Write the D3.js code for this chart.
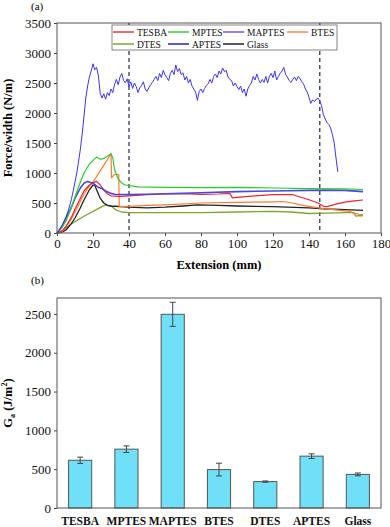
<!DOCTYPE html>
<html>
<head>
<meta charset="utf-8">
<script src="https://cdn.jsdelivr.net/npm/d3@7"></script>
<style>
  body { margin: 0; background: #fff; }
  svg { display: block; }
</style>
</head>
<body>
<div id="chart"></div>
<script>
// ---- data for panel (a): [extension mm, force/width N/m] ----
const tesba = [[0,0],[3,40],[5,110],[8,260],[10,400],[13,580],[15,700],[18,800],[20,840],[22,860],[24,800],[26,720],[28,650],[30,620],[35,610],[40,620],[50,640],[60,650],[70,655],[80,645],[90,650],[96,660],[97.5,585],[100,595],[110,620],[120,640],[131,638],[135,600],[140,555],[145,500],[148,445],[150,440],[155,480],[160,515],[165,535],[170,550]];
const mptes = [[0,0],[3,100],[5,200],[8,420],[10,600],[13,850],[15,1000],[18,1150],[20,1210],[22,1265],[24,1230],[26,1240],[28,1280],[30,1320],[31,1250],[32,1050],[34,900],[36,830],[38,800],[40,790],[45,770],[60,760],[80,755],[100,760],[120,750],[140,740],[160,735],[170,725]];
const maptes = [[0,0],[1,30],[2,80],[3,140],[4,200],[5,270],[6,350],[7,450],[8,560],[9,700],[10,850],[11,1000],[12,1200],[13,1400],[14,1650],[15,1950],[16,2250],[17,2450],[18,2600],[19,2700],[20,2820],[21,2720],[22,2760],[23,2620],[24,2330],[25,2250],[26,2320],[27,2230],[28,2340],[29,2290],[30,2400],[31,2340],[32,2480],[33,2560],[34,2470],[35,2600],[36,2660],[37,2540],[38,2500],[39,2570],[40,2440],[41,2520],[42,2410],[43,2500],[44,2440],[45,2340],[46,2420],[47,2460],[48,2520],[49,2400],[50,2360],[51,2420],[52,2470],[53,2510],[54,2560],[55,2610],[56,2540],[57,2660],[58,2590],[59,2710],[60,2640],[61,2590],[62,2540],[63,2660],[64,2710],[65,2640],[66,2800],[67,2690],[68,2740],[69,2640],[70,2670],[71,2550],[72,2610],[73,2500],[74,2560],[75,2450],[76,2400],[77,2350],[78,2210],[79,2360],[80,2400],[81,2340],[82,2410],[83,2460],[84,2490],[85,2560],[86,2500],[87,2610],[88,2650],[89,2590],[90,2700],[91,2650],[92,2750],[93,2690],[94,2710],[95,2600],[96,2560],[97,2540],[98,2450],[99,2500],[100,2440],[101,2390],[102,2450],[103,2340],[104,2400],[105,2280],[106,2400],[107,2460],[108,2500],[109,2610],[110,2550],[111,2650],[112,2560],[113,2500],[114,2560],[115,2510],[116,2610],[117,2500],[118,2610],[119,2660],[120,2590],[121,2700],[122,2550],[123,2610],[124,2660],[125,2700],[126,2760],[127,2640],[128,2600],[129,2540],[130,2510],[131,2560],[132,2600],[133,2540],[134,2610],[135,2580],[136,2520],[137,2480],[138,2400],[139,2350],[140,2260],[141,2160],[142,2220],[143,2190],[144,2230],[145,2250],[146,2200],[147,2120],[148,1970],[149,1900],[150,1840],[151,1810],[152,1750],[153,1640],[154,1500],[155,1250],[156,1020]];
const btes = [[0,0],[3,30],[5,100],[8,240],[10,350],[13,530],[15,650],[18,780],[20,850],[25,1080],[30,1320],[30.3,920],[31.5,960],[32,975],[34.3,975],[34.6,440],[40,445],[50,460],[60,470],[80,500],[100,510],[120,520],[125,525],[131,500],[135,470],[140,445],[148,405],[155,385],[160,370],[163,360],[165,320],[167,320],[168,305],[170,305]];
const dtes = [[0,0],[2,20],[5,80],[8,150],[10,190],[15,280],[20,360],[25,440],[27,470],[30,450],[33,380],[36,350],[40,340],[60,340],[80,340],[100,350],[120,360],[130,350],[140,325],[150,330],[160,340],[165,340],[166,280],[168,290],[170,285]];
const aptes = [[0,0],[3,120],[5,250],[8,430],[10,580],[13,750],[15,830],[17,860],[20,830],[23,760],[25,740],[27,700],[30,660],[32,645],[40,640],[50,645],[60,655],[80,670],[100,690],[120,700],[128,705],[140,710],[150,715],[160,710],[170,690]];
const glass = [[0,0],[3,20],[5,50],[8,160],[10,250],[13,420],[15,550],[18,720],[20,800],[21,790],[22,720],[24,580],[26,500],[28,460],[30,450],[40,430],[50,420],[60,430],[70,450],[78,470],[90,460],[100,450],[120,440],[140,420],[150,400],[160,390],[170,378]];

const seriesNames = ["TESBA", "MPTES", "MAPTES", "BTES", "DTES", "APTES", "Glass"];
const seriesData = [tesba, mptes, maptes, btes, dtes, aptes, glass];
const seriesColors = ["#f5232b", "#2ccb2c", "#3b35f2", "#ff7a2e", "#7ea532", "#4a46e0", "#222222"];
const seriesWidths = [1.2, 1.2, 1, 1.2, 1.3, 1.6, 1.3];
const dashedAt = [40, 146];
const xTicksA = d3.range(0, 181, 20);
const yTicksA = d3.range(0, 3501, 500);

// ---- data for panel (b) ----
const samples = ["TESBA", "MPTES", "MAPTES", "BTES", "DTES", "APTES", "Glass"];
const gaValues = [615, 758, 2495, 495, 340, 668, 433];
const gaErrors = [40, 42, 155, 82, 8, 30, 18];
const yTicksB = d3.range(0, 2501, 500);

const FONT = '"Liberation Serif", "Times New Roman", Times, serif';
const W = 390, H = 527;
const svg = d3.select("#chart").append("svg").attr("width", W).attr("height", H)
  .attr("font-family", FONT);

function styleAxis(g, size, bold) {
  g.attr("font-family", FONT).attr("font-size", size);
  if (bold) g.attr("font-weight", "bold");
  g.selectAll(".domain").remove();
  g.selectAll("line").attr("stroke", "#444");
  g.selectAll("text").attr("fill", "#111").attr("font-family", FONT);
}

// ---------- panel (a) ----------
const ax = { l: 57, r: 381, t: 23, b: 233 };
const x = d3.scaleLinear().domain([0, 180]).range([ax.l, ax.r]);
const y = d3.scaleLinear().domain([0, 3500]).range([ax.b, ax.t]);

svg.append("text").attr("x", 31).attr("y", 10).attr("font-size", 11).text("(a)");

styleAxis(svg.append("g").attr("transform", `translate(0,${ax.b})`)
  .call(d3.axisBottom(x).tickValues(xTicksA).tickFormat(d3.format("d")).tickSize(3).tickSizeOuter(0)), 13);
styleAxis(svg.append("g").attr("transform", `translate(${ax.l},0)`)
  .call(d3.axisLeft(y).tickValues(yTicksA).tickFormat(d3.format("d")).tickSize(3).tickSizeOuter(0)), 13);

// dashed guides
svg.selectAll(".guide").data(dashedAt).enter().append("line")
  .attr("x1", d => x(d)).attr("x2", d => x(d))
  .attr("y1", ax.t).attr("y2", ax.b)
  .attr("stroke", "#1f2a44").attr("stroke-width", 1.2).attr("stroke-dasharray", "4,3");

const line = d3.line().x(d => x(d[0])).y(d => y(d[1]));
// draw order: back to front
const order = [4, 6, 3, 0, 5, 1, 2];
order.forEach(i => {
  svg.append("path").datum(seriesData[i]).attr("d", line)
    .attr("fill", "none").attr("stroke", seriesColors[i])
    .attr("stroke-width", seriesWidths[i]).attr("stroke-linejoin", "round");
});

svg.append("rect").attr("x", ax.l).attr("y", ax.t)
  .attr("width", ax.r - ax.l).attr("height", ax.b - ax.t)
  .attr("fill", "none").attr("stroke", "#555").attr("stroke-width", 1);

// legend
const leg = svg.append("g");
leg.append("rect").attr("x", 112).attr("y", 25).attr("width", 225).attr("height", 25)
  .attr("fill", "#fff").attr("stroke", "#666").attr("stroke-width", 0.8);
const legX = [113, 168, 223, 287];
seriesNames.forEach((name, i) => {
  const lx = legX[i % 4], ly = i < 4 ? 32 : 44;
  leg.append("line").attr("x1", lx).attr("x2", lx + 21).attr("y1", ly).attr("y2", ly)
    .attr("stroke", seriesColors[i]).attr("stroke-width", seriesWidths[i] + 0.2);
  leg.append("text").attr("x", lx + 24).attr("y", ly + 3.5)
    .attr("font-size", 9.5).attr("fill", "#111").text(name);
});

svg.append("text")
  .attr("transform", `translate(12,${(ax.t + ax.b) / 2}) rotate(-90)`)
  .attr("text-anchor", "middle").attr("font-weight", "bold").attr("font-size", 12.5)
  .text("Force/width (N/m)");
svg.append("text").attr("x", (ax.l + ax.r) / 2).attr("y", 269)
  .attr("text-anchor", "middle").attr("font-weight", "bold").attr("font-size", 12.5)
  .text("Extension (mm)");

// ---------- panel (b) ----------
const bx = { l: 57, r: 381, t: 298, b: 508 };
const xb = d3.scaleBand().domain(samples).range([bx.l, bx.r]).paddingInner(0.5).paddingOuter(0.25);
const yb = d3.scaleLinear().domain([0, 2705]).range([bx.b, bx.t]);

svg.append("text").attr("x", 31).attr("y", 284).attr("font-size", 11).text("(b)");

svg.selectAll(".bar").data(samples).enter().append("rect")
  .attr("x", d => xb(d)).attr("width", xb.bandwidth())
  .attr("y", (d, i) => yb(gaValues[i])).attr("height", (d, i) => yb(0) - yb(gaValues[i]))
  .attr("fill", "#6fe0f8").attr("stroke", "#555").attr("stroke-width", 1);

const eb = svg.append("g").attr("stroke", "#444").attr("stroke-width", 1);
samples.forEach((s, i) => {
  const cx = xb(s) + xb.bandwidth() / 2;
  const hi = yb(gaValues[i] + gaErrors[i]), lo = yb(gaValues[i] - gaErrors[i]);
  eb.append("line").attr("x1", cx).attr("x2", cx).attr("y1", hi).attr("y2", lo);
  eb.append("line").attr("x1", cx - 3).attr("x2", cx + 3).attr("y1", hi).attr("y2", hi);
  eb.append("line").attr("x1", cx - 3).attr("x2", cx + 3).attr("y1", lo).attr("y2", lo);
});

styleAxis(svg.append("g").attr("transform", `translate(${bx.l},0)`)
  .call(d3.axisLeft(yb).tickValues(yTicksB).tickFormat(d3.format("d")).tickSize(3).tickSizeOuter(0)), 13);
styleAxis(svg.append("g").attr("transform", `translate(0,${bx.b})`)
  .call(d3.axisBottom(xb).tickSize(0).tickPadding(9)), 11.5, true);

svg.append("rect").attr("x", bx.l).attr("y", bx.t)
  .attr("width", bx.r - bx.l).attr("height", bx.b - bx.t)
  .attr("fill", "none").attr("stroke", "#555").attr("stroke-width", 1);

const gaLabel = svg.append("text")
  .attr("transform", `translate(12,${(bx.t + bx.b) / 2}) rotate(-90)`)
  .attr("text-anchor", "middle").attr("font-weight", "bold").attr("font-size", 12.5);
gaLabel.append("tspan").text("G");
gaLabel.append("tspan").attr("font-size", 8).attr("dy", 3).text("a");
gaLabel.append("tspan").attr("dy", -3).text(" (J/m");
gaLabel.append("tspan").attr("font-size", 8).attr("dy", -5).text("2");
gaLabel.append("tspan").attr("dy", 5).text(")");
</script>
</body>
</html>
